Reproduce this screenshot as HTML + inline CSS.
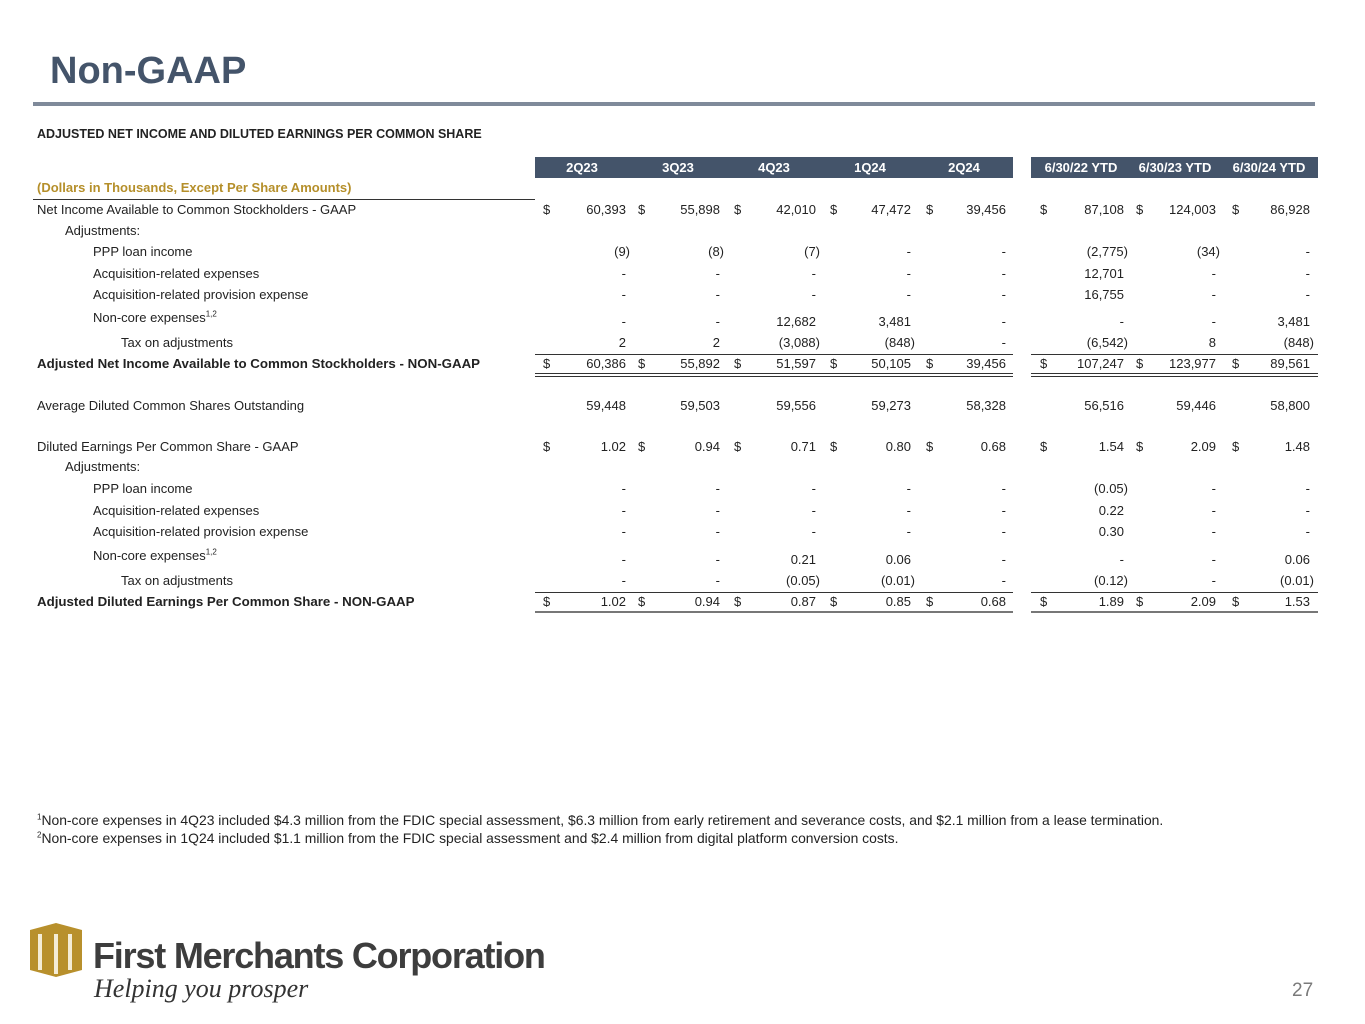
<!DOCTYPE html>
<html><head><meta charset="utf-8"><style>
body{margin:0;width:1365px;height:1024px;background:#fff;position:relative;overflow:hidden;font-family:"Liberation Sans",sans-serif;color:#222}
.a{position:absolute;white-space:nowrap}
.r{position:absolute;height:16px;line-height:16px;font-size:13px;left:0;width:1365px}
.r span{position:absolute;white-space:nowrap}
.d{width:10px}
.n{width:100px;text-align:right}
.b{font-weight:bold;font-size:13.3px}
.c1{left:526px}.c2{left:620px}.c3{left:716px}.c4{left:811px}.c5{left:906px}.c6{left:1024px}.c7{left:1116px}.c8{left:1210px}
.p{margin-left:4px}
.h{position:absolute;background:#44546a;color:#fff;font-weight:bold;font-size:13px;height:21px;line-height:21px;top:157px}
.h span{position:absolute;width:90px;text-align:center}
.ln{position:absolute;background:#333;height:1px}
sup{font-size:8px;line-height:0}
</style></head><body>
<div class="a" style="left:50px;top:50px;font-size:38px;font-weight:bold;color:#44546a">Non-GAAP</div>
<div class="a" style="left:33px;top:102px;width:1282px;height:4px;background:#7f8a9a"></div>
<div class="a b" style="left:37px;top:127px;font-size:12.5px">ADJUSTED NET INCOME AND DILUTED EARNINGS PER COMMON SHARE</div>
<div class="h" style="left:535px;width:478px"><span style="left:2px">2Q23</span><span style="left:98px">3Q23</span><span style="left:194px">4Q23</span><span style="left:290px">1Q24</span><span style="left:384px">2Q24</span></div>
<div class="h" style="left:1031px;width:287px"><span style="left:2px;width:96px">6/30/22 YTD</span><span style="left:96px;width:96px">6/30/23 YTD</span><span style="left:190px;width:96px">6/30/24 YTD</span></div>
<div class="a b" style="left:37px;top:180px;font-size:13px;color:#b58f2a">(Dollars in Thousands, Except Per Share Amounts)</div>
<div class="ln" style="left:33px;top:199px;width:502px"></div>

<div class="r" style="top:202px"><span style="left:37px">Net Income Available to Common Stockholders - GAAP</span>
<span style="left:543px">$</span><span class="n c1">60,393</span><span style="left:638px">$</span><span class="n c2">55,898</span><span style="left:734px">$</span><span class="n c3">42,010</span><span style="left:830px">$</span><span class="n c4">47,472</span><span style="left:926px">$</span><span class="n c5">39,456</span><span style="left:1040px">$</span><span class="n c6">87,108</span><span style="left:1136px">$</span><span class="n c7">124,003</span><span style="left:1232px">$</span><span class="n c8">86,928</span></div>
<div class="r" style="top:223px"><span style="left:65px">Adjustments:</span></div>
<div class="r" style="top:244px"><span style="left:93px">PPP loan income</span><span class="n c1 p">(9)</span><span class="n c2 p">(8)</span><span class="n c3 p">(7)</span><span class="n c4">-</span><span class="n c5">-</span><span class="n c6 p">(2,775)</span><span class="n c7 p">(34)</span><span class="n c8">-</span></div>
<div class="r" style="top:266px"><span style="left:93px">Acquisition-related expenses</span><span class="n c1">-</span><span class="n c2">-</span><span class="n c3">-</span><span class="n c4">-</span><span class="n c5">-</span><span class="n c6">12,701</span><span class="n c7">-</span><span class="n c8">-</span></div>
<div class="r" style="top:287px"><span style="left:93px">Acquisition-related provision expense</span><span class="n c1">-</span><span class="n c2">-</span><span class="n c3">-</span><span class="n c4">-</span><span class="n c5">-</span><span class="n c6">16,755</span><span class="n c7">-</span><span class="n c8">-</span></div>
<div class="r" style="top:314px"><span style="left:93px;top:-4px">Non-core expenses<sup>1,2</sup></span><span class="n c1">-</span><span class="n c2">-</span><span class="n c3">12,682</span><span class="n c4">3,481</span><span class="n c5">-</span><span class="n c6">-</span><span class="n c7">-</span><span class="n c8">3,481</span></div>
<div class="r" style="top:335px"><span style="left:121px">Tax on adjustments</span><span class="n c1">2</span><span class="n c2">2</span><span class="n c3 p">(3,088)</span><span class="n c4 p">(848)</span><span class="n c5">-</span><span class="n c6 p">(6,542)</span><span class="n c7">8</span><span class="n c8 p">(848)</span></div>
<div class="ln" style="left:535px;top:354px;width:478px"></div><div class="ln" style="left:1031px;top:354px;width:287px"></div>
<div class="r" style="top:356px"><span class="b" style="left:37px">Adjusted Net Income Available to Common Stockholders - NON-GAAP</span>
<span style="left:543px">$</span><span class="n c1">60,386</span><span style="left:638px">$</span><span class="n c2">55,892</span><span style="left:734px">$</span><span class="n c3">51,597</span><span style="left:830px">$</span><span class="n c4">50,105</span><span style="left:926px">$</span><span class="n c5">39,456</span><span style="left:1040px">$</span><span class="n c6">107,247</span><span style="left:1136px">$</span><span class="n c7">123,977</span><span style="left:1232px">$</span><span class="n c8">89,561</span></div>
<div class="ln" style="left:535px;top:373px;width:478px"></div><div class="ln" style="left:1031px;top:373px;width:287px"></div>
<div class="ln" style="left:535px;top:376px;width:478px"></div><div class="ln" style="left:1031px;top:376px;width:287px"></div>

<div class="r" style="top:398px"><span style="left:37px">Average Diluted Common Shares Outstanding</span><span class="n c1">59,448</span><span class="n c2">59,503</span><span class="n c3">59,556</span><span class="n c4">59,273</span><span class="n c5">58,328</span><span class="n c6">56,516</span><span class="n c7">59,446</span><span class="n c8">58,800</span></div>

<div class="r" style="top:439px"><span style="left:37px">Diluted Earnings Per Common Share - GAAP</span>
<span style="left:543px">$</span><span class="n c1">1.02</span><span style="left:638px">$</span><span class="n c2">0.94</span><span style="left:734px">$</span><span class="n c3">0.71</span><span style="left:830px">$</span><span class="n c4">0.80</span><span style="left:926px">$</span><span class="n c5">0.68</span><span style="left:1040px">$</span><span class="n c6">1.54</span><span style="left:1136px">$</span><span class="n c7">2.09</span><span style="left:1232px">$</span><span class="n c8">1.48</span></div>
<div class="r" style="top:459px"><span style="left:65px">Adjustments:</span></div>
<div class="r" style="top:481px"><span style="left:93px">PPP loan income</span><span class="n c1">-</span><span class="n c2">-</span><span class="n c3">-</span><span class="n c4">-</span><span class="n c5">-</span><span class="n c6 p">(0.05)</span><span class="n c7">-</span><span class="n c8">-</span></div>
<div class="r" style="top:503px"><span style="left:93px">Acquisition-related expenses</span><span class="n c1">-</span><span class="n c2">-</span><span class="n c3">-</span><span class="n c4">-</span><span class="n c5">-</span><span class="n c6">0.22</span><span class="n c7">-</span><span class="n c8">-</span></div>
<div class="r" style="top:524px"><span style="left:93px">Acquisition-related provision expense</span><span class="n c1">-</span><span class="n c2">-</span><span class="n c3">-</span><span class="n c4">-</span><span class="n c5">-</span><span class="n c6">0.30</span><span class="n c7">-</span><span class="n c8">-</span></div>
<div class="r" style="top:552px"><span style="left:93px;top:-4px">Non-core expenses<sup>1,2</sup></span><span class="n c1">-</span><span class="n c2">-</span><span class="n c3">0.21</span><span class="n c4">0.06</span><span class="n c5">-</span><span class="n c6">-</span><span class="n c7">-</span><span class="n c8">0.06</span></div>
<div class="r" style="top:573px"><span style="left:121px">Tax on adjustments</span><span class="n c1">-</span><span class="n c2">-</span><span class="n c3 p">(0.05)</span><span class="n c4 p">(0.01)</span><span class="n c5">-</span><span class="n c6 p">(0.12)</span><span class="n c7">-</span><span class="n c8 p">(0.01)</span></div>
<div class="ln" style="left:535px;top:592px;width:478px"></div><div class="ln" style="left:1031px;top:592px;width:287px"></div>
<div class="r" style="top:594px"><span class="b" style="left:37px">Adjusted Diluted Earnings Per Common Share - NON-GAAP</span>
<span style="left:543px">$</span><span class="n c1">1.02</span><span style="left:638px">$</span><span class="n c2">0.94</span><span style="left:734px">$</span><span class="n c3">0.87</span><span style="left:830px">$</span><span class="n c4">0.85</span><span style="left:926px">$</span><span class="n c5">0.68</span><span style="left:1040px">$</span><span class="n c6">1.89</span><span style="left:1136px">$</span><span class="n c7">2.09</span><span style="left:1232px">$</span><span class="n c8">1.53</span></div>
<div class="ln" style="left:535px;top:611px;width:478px;height:2px;background:#777"></div><div class="ln" style="left:1031px;top:611px;width:287px;height:2px;background:#777"></div>

<div class="a" style="left:37px;top:812px;font-size:13.9px"><sup>1</sup>Non-core expenses in 4Q23 included $4.3 million from the FDIC special assessment, $6.3 million from early retirement and severance costs, and $2.1 million from a lease termination.</div>
<div class="a" style="left:37px;top:830px;font-size:13.9px"><sup>2</sup>Non-core expenses in 1Q24 included $1.1 million from the FDIC special assessment and $2.4 million from digital platform conversion costs.</div>

<svg class="a" style="left:28px;top:920px" width="60" height="60" viewBox="0 0 60 60">
<polygon points="2,10 28,3 54,10 54,50 28,57 2,50" fill="#b8902c"/>
<rect x="10" y="14" width="4" height="36" fill="#f4ecd6"/><rect x="26" y="14" width="4" height="40" fill="#f4ecd6"/><rect x="40" y="14" width="4" height="36" fill="#f4ecd6"/>
</svg>
<div class="a" style="left:93px;top:935px;font-size:36px;font-weight:bold;color:#3d3d3d;letter-spacing:-1.2px">First Merchants Corporation</div>
<div class="a" style="left:94px;top:974px;font-size:26px;font-style:italic;font-family:'Liberation Serif',serif;color:#333">Helping you prosper</div>
<div class="a" style="left:1292px;top:980px;font-size:19px;color:#7a7a7a">27</div>
</body></html>
